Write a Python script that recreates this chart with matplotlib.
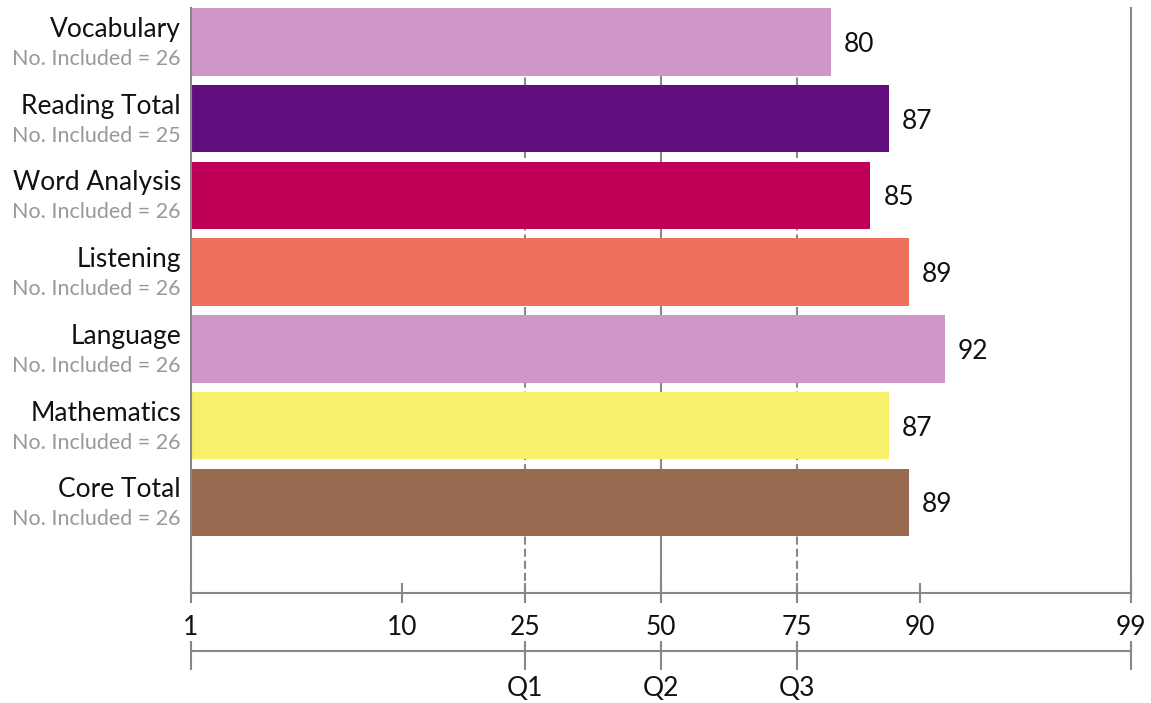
"""
percentile rank bar chart on a normal curve equivalent scale
"""
import matplotlib.pyplot as plt
from statistics import NormalDist

categories = ["Vocabulary", "Reading Total", "Word Analysis", "Listening",
              "Language", "Mathematics", "Core Total"]
percentiles = [80, 87, 85, 89, 92, 87, 89]
n_included = [26, 25, 26, 26, 26, 26, 26]
bar_colors = ["#CE97C8", "#610F7F", "#C00058", "#EE6F5A",
              "#CE97C8", "#F7F06B", "#986A4F"]
tick_values = [1, 10, 25, 50, 75, 90, 99]
quartile_values = [25, 50, 75]
quartile_labels = ["Q1", "Q2", "Q3"]

plt.rcParams['font.family'] = ['Lato', 'DejaVu Sans']
grey = '#888888'


# percentile rank -> normal curve equivalent
def nce(p):
    return 50 + 21.06 * NormalDist().inv_cdf(p / 100)


fig = plt.figure(figsize=(11.51, 7.03), dpi=100)
ax = fig.add_axes([191 / 1151, 110 / 703, 940 / 1151, 585 / 703])

base = nce(1)
ypos = list(range(len(categories)))
ax.barh(ypos, [nce(p) - base for p in percentiles], left=base, height=0.88,
        color=bar_colors, zorder=2)

# quartile reference lines
for q in quartile_values:
    if q == 50:
        ax.axvline(nce(q), color=grey, lw=1.5, zorder=1)
    else:
        ax.axvline(nce(q), color=grey, lw=1.5, dashes=(3.9, 1.9), zorder=1)

ax.set_xlim(nce(1), nce(99))
ax.set_ylim(7.18, -0.44)
ax.set_yticks([])
ax.spines['top'].set_visible(False)
for side in ['left', 'right', 'bottom']:
    ax.spines[side].set_color(grey)
    ax.spines[side].set_linewidth(1.5)
    ax.spines[side].set_zorder(3)

ax.set_xticks([nce(v) for v in tick_values], labels=[str(v) for v in tick_values])
ax.tick_params(axis='x', direction='inout', length=14.4, width=1.5, color=grey,
               pad=8.5, labelsize=19, labelcolor='#111111')

# second axis with quartile names
secax = ax.secondary_xaxis(-58 / 585)
qticks = [nce(1)] + [nce(q) for q in quartile_values] + [nce(99)]
secax.set_xticks(qticks, labels=[""] + quartile_labels + [""])
secax.xaxis.remove_overlapping_locs = False
secax.set_xticks(qticks, minor=True)
secax.spines['bottom'].set_color(grey)
secax.spines['bottom'].set_linewidth(1.5)
secax.tick_params(axis='x', which='major', direction='out', length=13.7, width=1.5,
                  color=grey, pad=4, labelsize=19, labelcolor='#111111')
secax.tick_params(axis='x', which='minor', direction='in', length=7.2, width=1.5,
                  color=grey)

for i, name in enumerate(categories):
    ax.annotate(name, xy=(0, i), xycoords=ax.get_yaxis_transform(),
                xytext=(-7.2, 9.0), textcoords='offset points',
                ha='right', va='center', fontsize=19, color='#111111')
    ax.annotate(f"No. Included = {n_included[i]}", xy=(0, i),
                xycoords=ax.get_yaxis_transform(),
                xytext=(-7.2, -12.3), textcoords='offset points',
                ha='right', va='center', fontsize=15.5, color='#999999')
    ax.annotate(str(percentiles[i]), xy=(nce(percentiles[i]), i),
                xytext=(9.4, -1.8), textcoords='offset points',
                ha='left', va='center', fontsize=19, color='#111111')

fig.savefig('out.png', dpi=100)
